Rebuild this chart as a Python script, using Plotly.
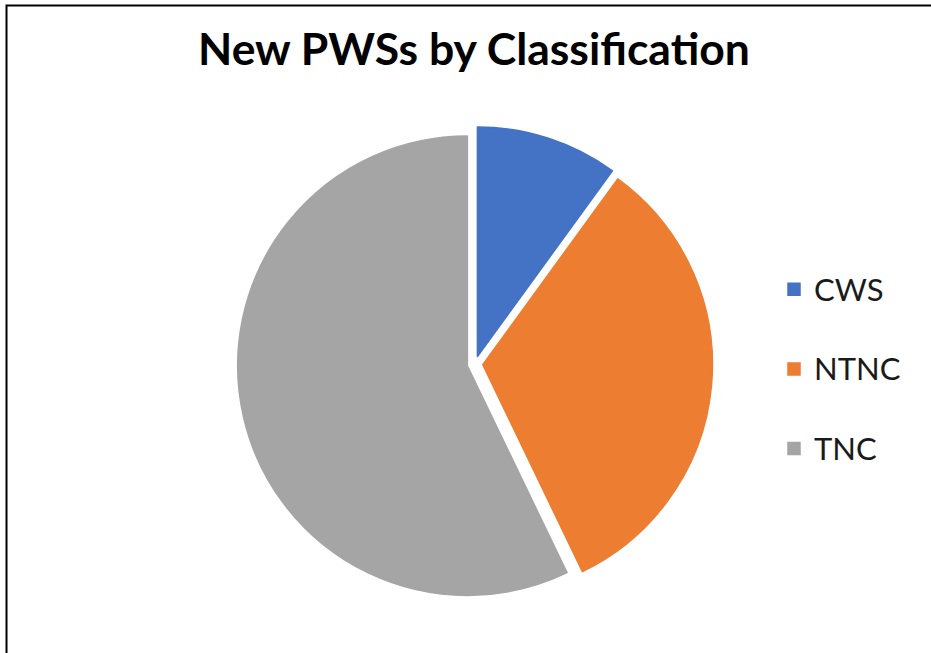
import plotly.graph_objects as go

categories = ["CWS", "NTNC", "TNC"]
counts = [7, 23, 40]
colors = ["#4472C4", "#ED7D31", "#A5A5A5"]
title_text = "New PWSs by Classification"

W, H = 931, 653

# legend labels: a trailing empty line gives the wide item spacing of the original
legend_labels = [f"<span style='font-size:31px'>{c}</span><br> " for c in categories]

fig = go.Figure(
    go.Pie(
        labels=legend_labels,
        values=counts,
        marker=dict(colors=colors, line=dict(color=colors, width=1.5)),
        sort=False,
        direction="clockwise",
        rotation=0,
        pull=[0.034, 0.034, 0.034],
        textinfo="none",
        hoverinfo="label+value+percent",
        domain=dict(x=[237.5 / W, 712.5 / W], y=[51.5 / H, 526.5 / H]),
    )
)

fig.update_layout(
    width=W,
    height=H,
    margin=dict(l=0, r=0, t=0, b=0),
    paper_bgcolor="white",
    plot_bgcolor="white",
    title=dict(
        text=f"<b>{title_text}</b>",
        x=474 / W,
        xanchor="center",
        xref="paper",
        y=1 - 49 / H,
        yref="container",
        yanchor="middle",
        font=dict(family="Lato", size=44.5, color="black"),
    ),
    legend=dict(
        x=774 / W,
        xanchor="left",
        y=1 - 263.5 / H,
        yanchor="top",
        valign="top",
        font=dict(family="Lato", size=29.5, color="#1a1a1a"),
        bgcolor="rgba(0,0,0,0)",
    ),
    shapes=[
        dict(
            type="rect",
            xref="paper",
            yref="paper",
            x0=6.5 / W,
            x1=1.05,
            y0=-0.05,
            y1=1 - 5.5 / H,
            line=dict(color="black", width=2),
            fillcolor="rgba(0,0,0,0)",
            layer="above",
        )
    ],
)

fig.write_html(
    "out.html",
    config={"displayModeBar": False},
    post_script="document.body.style.margin='0px';document.body.style.overflow='hidden';",
)
